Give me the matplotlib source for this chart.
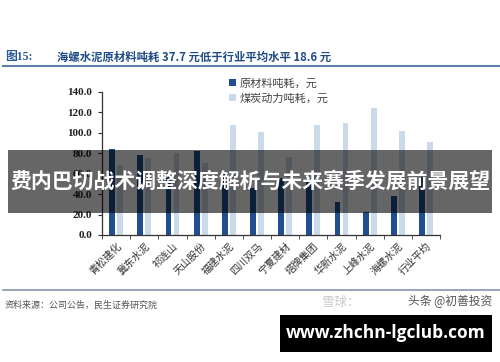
import numpy as np
import matplotlib.pyplot as plt
from matplotlib.patches import Rectangle
from matplotlib.lines import Line2D

plt.rcParams['font.family'] = ['Noto Sans CJK SC', 'DejaVu Sans']

# 数据
companies = ['青松建化', '冀东水泥', '祁连山', '天山股份', '福建水泥', '四川双马',
             '宁夏建材', '塔牌集团', '华新水泥', '上峰水泥', '海螺水泥', '行业平均']
raw_material = [84.5, 78.4, 60.5, 82.3, 61.8, 46.0, 55.4, 53.0, 32.5, 22.5, 37.7, 56.3]
coal_power = [68.4, 75.5, 80.2, 70.6, 107.4, 100.3, 76.0, 107.4, 109.7, 124.5, 101.6, 91.1]
yticks = [0, 20, 40, 60, 80, 100, 120, 140]

fig = plt.figure(figsize=(5.0, 3.62), dpi=100)
W, H = 500.0, 362.0

# 标题
fig.text(5 / W, 1 - 57 / H, '图15:', fontsize=8.5, color='#2a5a9a', fontweight='bold',
         va='center', family=['Liberation Serif', 'Noto Sans CJK SC'])
fig.text(57 / W, 1 - 57 / H, '海螺水泥原材料吨耗 37.7 元低于行业平均水平 18.6 元',
         fontsize=8.2, color='#1f4a86', fontweight='bold', va='center', style='italic')
fig.add_artist(Line2D([3 / W, 1], [1 - 66 / H, 1 - 66 / H], color='#5d7ea6', lw=1.5))

ax = fig.add_axes([102 / W, 1 - 235 / H, 338 / W, 143.3 / H])
x = np.arange(len(companies))
ax.bar(x - 0.14, raw_material, width=0.21, color='#1f4f8e', label='原材料吨耗，元')
ax.bar(x + 0.145, coal_power, width=0.21, color='#cbdaea', label='煤炭动力吨耗，元')

ax.set_xlim(-0.5, len(companies) - 0.5)
ax.set_ylim(0, 140)
ax.set_yticks(yticks)
ax.set_yticklabels([f'{v:.1f}' for v in yticks], fontsize=8, fontweight='bold',
                   family='Liberation Serif', color='#222222')
ax.set_xticks(x)
ax.set_xticklabels(companies, rotation=45, ha='right', rotation_mode='anchor',
                   fontsize=7.3, color='#333333')
ax.set_xticks(np.arange(-0.5, len(companies)), minor=True)
ax.tick_params(axis='x', which='major', length=0, pad=4)
ax.tick_params(axis='x', which='minor', length=3, direction='out', color='#333333')
ax.tick_params(axis='y', length=3, direction='out', color='#333333', pad=4)
for s in ['top', 'right']:
    ax.spines[s].set_visible(False)
for s in ['left', 'bottom']:
    ax.spines[s].set_color('#333333')
    ax.spines[s].set_linewidth(0.9)

leg = ax.legend(loc='upper left', bbox_to_anchor=((225 - 102) / 338, 1 + 18 / 143.3),
                frameon=False, fontsize=8, handlelength=0.6, handleheight=0.6,
                handletextpad=0.3, labelspacing=0.45, borderaxespad=0)
for t in leg.get_texts():
    t.set_color('#444444')

# 底部
fig.add_artist(Line2D([3 / W, 1], [1 - 290 / H, 1 - 290 / H], color='#8397ae', lw=1.2))
fig.text(5 / W, 1 - 305 / H, '资料来源：公司公告，民生证券研究院', fontsize=6.5,
         color='#555555', va='center')
fig.text(322 / W, 1 - 302 / H, '雪球：', fontsize=9, color='#c8c8c8', va='center')
fig.text(492 / W, 1 - 302 / H, '头条 @初善投资', fontsize=8.5, color='#555555',
         va='center', ha='right')

# 覆盖横幅
fig.add_artist(Rectangle((8 / W, 1 - 213 / H), 484 / W, 63 / H, transform=fig.transFigure,
                         facecolor='black', alpha=0.6, edgecolor='none'))
fig.text(250 / W, 1 - 181 / H, '费内巴切战术调整深度解析与未来赛季发展前景展望',
         fontsize=15, color='white', fontweight='bold', ha='center', va='center')
fig.add_artist(Rectangle((280 / W, 1 - 352 / H), 212 / W, 37 / H, transform=fig.transFigure,
                         facecolor='black', edgecolor='none'))
fig.text(386 / W, 1 - 333 / H, 'www.zhchn-lgclub.com', fontsize=12.5, color='white',
         fontweight='bold', ha='center', va='center', family='Open Sans')

fig.savefig('out.png', dpi=100)
